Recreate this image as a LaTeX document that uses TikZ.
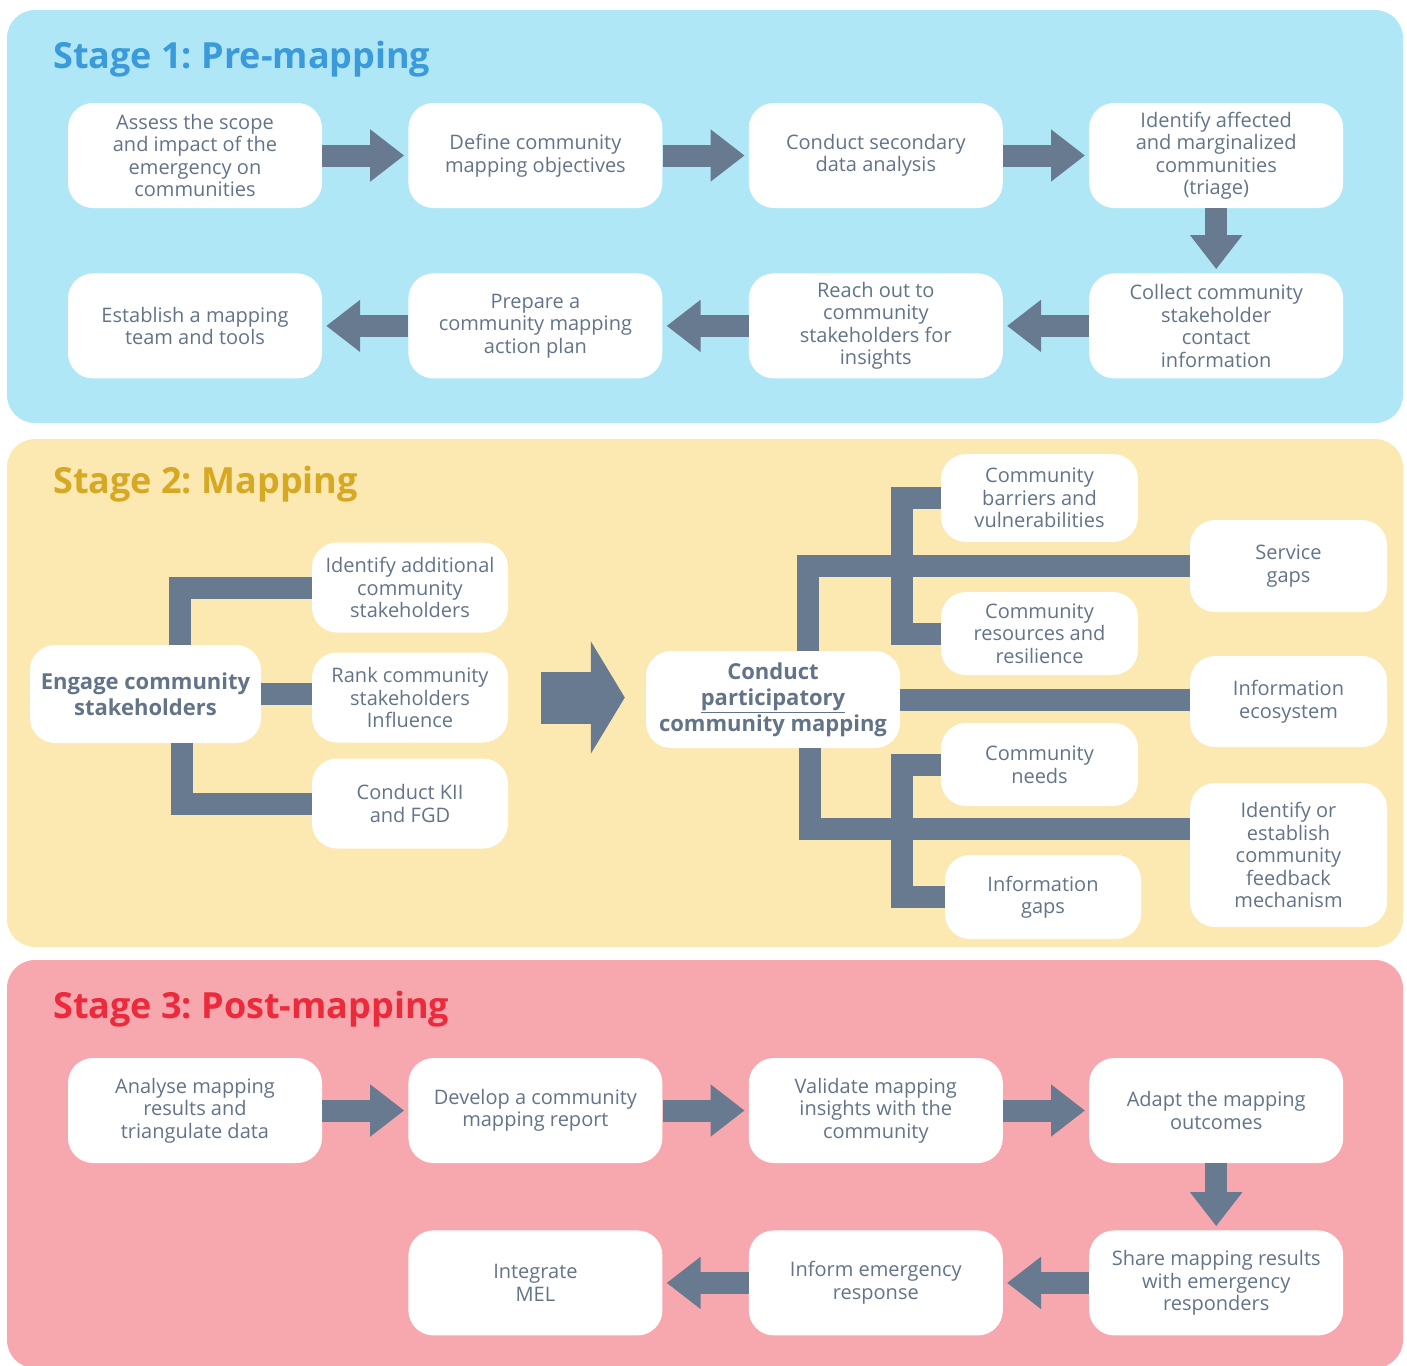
\documentclass[tikz,border=0pt]{standalone}
\usepackage{fontspec}
\setmainfont{Open Sans}
\usetikzlibrary{arrows.meta, positioning, calc}
\definecolor{panelAzul}{HTML}{AFE7F6}
\definecolor{panelAmarillo}{HTML}{FCE8B1}
\definecolor{panelRosa}{HTML}{F7A7AE}
\definecolor{tituloAzul}{HTML}{3B9AD9}
\definecolor{tituloOro}{HTML}{D6A823}
\definecolor{tituloRojo}{HTML}{EB2B3B}
\definecolor{barGris}{HTML}{687A8F}
\definecolor{textoGris}{HTML}{637488}
\frenchspacing

\begin{document}
\begin{tikzpicture}[x=1pt, y=-1pt, node distance=65pt and 86pt,
        stepbox/.style={fill=white, rounded corners=25pt, minimum width=254pt,
            minimum height=105pt, inner sep=2pt, align=center, text=textoGris,
            font=\fontsize{20}{22.5}\selectfont},
        smallbox/.style={stepbox, minimum width=197pt, minimum height=90pt},
        keybox/.style={stepbox, font=\bfseries\fontsize{22}{26}\selectfont},
        stagetitle/.style={anchor=base west, inner sep=0pt,
            font=\bfseries\fontsize{36}{40}\selectfont},
        flecha/.style={draw=barGris, line width=22pt,
            -{Triangle[width=50pt,length=34pt]}, shorten >=4pt},
        bigflecha/.style={draw=barGris, line width=52pt,
            -{Triangle[width=111pt,length=34pt]}},
        bar/.style={draw=barGris, line width=22pt}]
    \useasboundingbox (0,0) rectangle (1407,1365);
    % panels
    \fill[panelAzul, rounded corners=28pt] (7,10) rectangle (1403,423);
    \fill[panelAmarillo, rounded corners=28pt] (7,439) rectangle (1403,947);
    \fill[panelRosa, rounded corners=28pt] (7,960) rectangle (1403,1368);

    % Stage 1
    \node[stagetitle, text=tituloAzul] (t1) at (53,68) {Stage 1: Pre-mapping};
    \node[stepbox] (assess) at (195,155.5) {Assess the scope\\and impact of the\\emergency on\\communities};
    \node[stepbox, right=of assess] (define) {Define community\\mapping objectives};
    \node[stepbox, right=of define] (secondary) {Conduct secondary\\data analysis};
    \node[stepbox, right=of secondary] (triage) {Identify affected\\and marginalized\\communities\\(triage)};
    \node[stepbox, below=of triage] (collect) {Collect community\\stakeholder\\contact\\information};
    \node[stepbox, left=of collect] (reach) {Reach out to\\community\\stakeholders for\\insights};
    \node[stepbox, left=of reach] (prepare) {Prepare a\\community mapping\\action plan};
    \node[stepbox, left=of prepare] (establish) {Establish a mapping\\team and tools};
    \draw[flecha] (assess) -- (define);
    \draw[flecha] (define) -- (secondary);
    \draw[flecha] (secondary) -- (triage);
    \draw[flecha] (triage) -- (collect);
    \draw[flecha] (collect) -- (reach);
    \draw[flecha] (reach) -- (prepare);
    \draw[flecha] (prepare) -- (establish);

    % Stage 2
    \node[stagetitle, text=tituloOro] (t2) at (53,493) {Stage 2: Mapping};
    \node[keybox, minimum width=231pt, minimum height=98pt] (engage) at (145.5,694) {Engage community\\stakeholders};
    \node[smallbox, minimum width=196pt] (addst) at (410,587.5) {Identify additional\\community\\stakeholders};
    \node[smallbox, minimum width=196pt] (rank) at (410,697.5) {Rank community\\stakeholders\\Influence};
    \node[smallbox, minimum width=196pt] (kii) at (410,803.5) {Conduct KII\\and FGD};
    \node[keybox, minimum height=97pt] (cpcm) at (773,699.5) {Conduct\\\underline{participatory}\\community mapping};
    \node[smallbox, minimum height=88pt] (barriers) at (1039.5,498) {Community\\barriers and\\vulnerabilities};
    \node[smallbox, minimum height=92pt] (service) at (1288.5,566) {Service\\gaps};
    \node[smallbox, minimum height=83pt] (resources) at (1039.5,633.5) {Community\\resources and\\resilience};
    \node[smallbox, minimum height=91pt] (ecosys) at (1288.5,701.5) {Information\\ecosystem};
    \node[smallbox, minimum height=83pt] (needs) at (1039.5,764.5) {Community\\needs};
    \node[smallbox, minimum height=144pt] (feedback) at (1288.5,855) {Identify or\\establish\\community\\feedback\\mechanism};
    \node[smallbox, minimum width=196pt, minimum height=84pt] (infogaps) at (1043,897) {Information\\gaps};
    \draw[bar] ([xshift=34pt]engage.north) |- (addst.west);
    \draw[bar] (engage.east) -- (engage.east -| rank.west);
    \draw[bar] ([xshift=36pt]engage.south) |- (kii.west);
    \draw[bigflecha] ([xshift=33pt]rank.east) -- ([xshift=-21pt]rank.east -| cpcm.west);
    \draw[bar] ([xshift=35pt]cpcm.north) |- (service.west);
    \draw[bar] (barriers.west) -| ([xshift=-39pt]resources.west) -- (resources.west);
    \draw[bar] (cpcm.east) -- (cpcm.east -| ecosys.west);
    \draw[bar] ([xshift=37pt]cpcm.south) |- ([yshift=26pt]feedback.west);
    \draw[bar] (needs.west) -| ([xshift=-43pt]infogaps.west) -- (infogaps.west);

    % Stage 3
    \node[stagetitle, text=tituloRojo] (t3) at (53,1018) {Stage 3: Post-mapping};
    \node[stepbox] (analyse) at (195,1110.5) {Analyse mapping\\results and\\triangulate data};
    \node[stepbox, right=of analyse] (report) {Develop a community\\mapping report};
    \node[stepbox, right=of report] (validate) {Validate mapping\\insights with the\\community};
    \node[stepbox, right=of validate] (adapt) {Adapt the mapping\\outcomes};
    \node[stepbox, below=67pt of adapt] (share) {Share mapping results\\with emergency\\responders};
    \node[stepbox, left=of share] (inform) {Inform emergency\\response};
    \node[stepbox, left=of inform] (mel) {Integrate\\MEL};
    \draw[flecha] (analyse) -- (report);
    \draw[flecha] (report) -- (validate);
    \draw[flecha] (validate) -- (adapt);
    \draw[flecha] (adapt) -- (share);
    \draw[flecha] (share) -- (inform);
    \draw[flecha] (inform) -- (mel);
\end{tikzpicture}
\end{document}
